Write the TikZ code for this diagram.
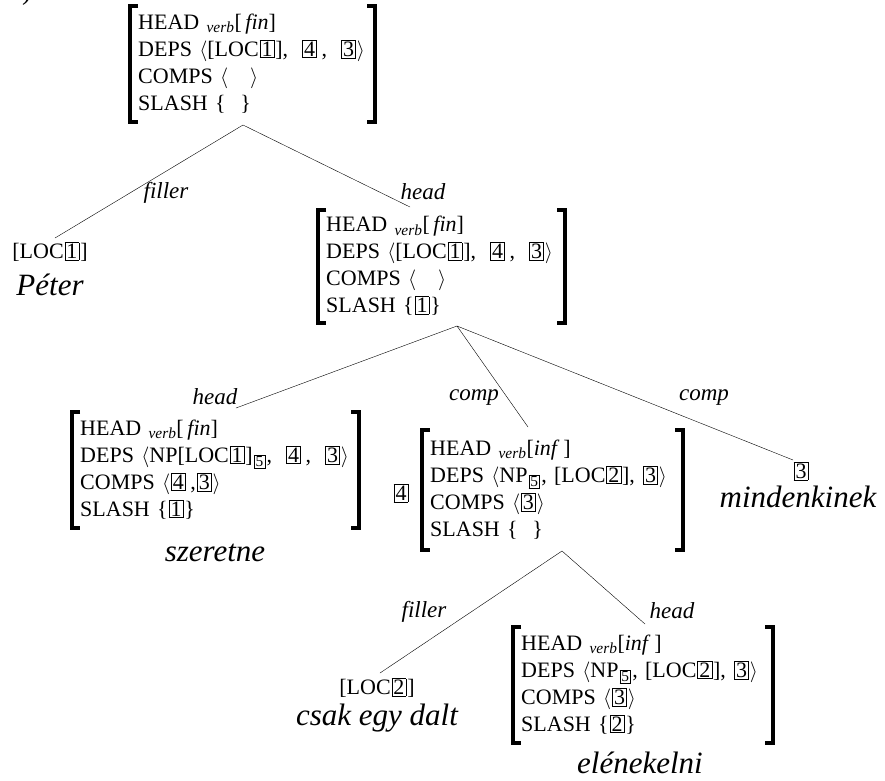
\documentclass[tikz,border=0pt]{standalone}
\usepackage{fontspec}
\setmainfont{Liberation Serif}
\usetikzlibrary{calc}
\newcommand{\bx}[1]{\kern1pt{\setlength{\fboxsep}{1.3pt}\setlength{\fboxrule}{0.5pt}\fbox{#1}}\kern1pt}
\newcommand{\vb}{\textsubscript{\textit{verb}}}
\newcommand{\gap}{\hspace{0.6em}}
\tikzset{
  avm/.style={anchor=north west, align=left, inner xsep=8pt, inner ysep=0pt,
    minimum height=116pt, font=\fontsize{22}{27}\selectfont},
  word/.style={font=\fontsize{31}{33}\selectfont\itshape, inner sep=0pt},
  lbl/.style={font=\fontsize{23}{25}\selectfont\itshape, inner sep=0pt},
  plain/.style={font=\fontsize{22}{26}\selectfont, inner sep=0pt},
  brk/.style={line width=4pt, line join=miter},
}
\begin{document}
\begin{tikzpicture}[x=1pt,y=-1pt]
\useasboundingbox (0,0) rectangle (885,780);
\node[plain, font=\fontsize{28}{30}\selectfont, anchor=base west](mark) at (22,-1) {)};
% feature structures
\node[avm, text width=229pt](top) at (130,6) {\begin{tabular}{@{}l@{}}
  HEAD \vb[\,\textit{fin}]\\
  DEPS $\langle$[LOC\bx{1}],\gap\bx{4}\,,\gap\bx{3}$\rangle$\\
  COMPS $\langle\quad\rangle$\\
  SLASH \{\ \ \}\end{tabular}};
\node[avm, text width=231pt, minimum height=113pt](mid) at (318,210) {\begin{tabular}{@{}l@{}}
  HEAD \vb[\,\textit{fin}]\\
  DEPS $\langle$[LOC\bx{1}],\gap\bx{4}\,,\gap\bx{3}$\rangle$\\
  COMPS $\langle\quad\rangle$\\
  SLASH \{\bx{1}\}\end{tabular}};
\node[avm, text width=271pt](hd) at (72,412) {\begin{tabular}{@{}l@{}}
  HEAD \vb[\,\textit{fin}]\\
  DEPS $\langle$NP[LOC\bx{1}]\textsubscript{\bx{5}},\gap\bx{4}\,,\gap\bx{3}$\rangle$\\
  COMPS $\langle$\bx{4}\,,\bx{3}$\rangle$\\
  SLASH \{\bx{1}\}\end{tabular}};
\node[avm, text width=245pt, minimum height=120pt](cmp) at (422,430) {\begin{tabular}{@{}l@{}}
  HEAD \vb[\textit{inf}\,]\\
  DEPS $\langle$NP\textsubscript{\bx{5}}, [LOC\bx{2}],\ \bx{3}$\rangle$\\
  COMPS $\langle$\bx{3}$\rangle$\\
  SLASH \{\ \ \}\end{tabular}};
\node[avm, text width=244pt](low) at (513,627) {\begin{tabular}{@{}l@{}}
  HEAD \vb[\textit{inf}\,]\\
  DEPS $\langle$NP\textsubscript{\bx{5}}, [LOC\bx{2}],\ \bx{3}$\rangle$\\
  COMPS $\langle$\bx{3}$\rangle$\\
  SLASH \{\bx{2}\}\end{tabular}};
\foreach \n in {top,mid,hd,cmp,low} {
  \draw[brk] ($(\n.north west)+(8pt,0)$)--(\n.north west)--(\n.south west)--++(8pt,0);
  \draw[brk] ($(\n.north east)+(-8pt,0)$)--(\n.north east)--(\n.south east)--++(-8pt,0);
}
% leaves
\node[plain](loc1) at (50,252) {[LOC\bx{1}]};
\node[word](peter) at (50,285) {Péter};
\node[word](szer) at (215,553) {szeretne};
\node[plain](tag4) at (401,493) {\bx{4}};
\node[plain](tag3) at (801,471) {\bx{3}};
\node[word](mind) at (798,497) {mindenkinek};
\node[plain](loc2) at (377,688) {[LOC\bx{2}]};
\node[word](csak) at (377,718) {csak egy dalt};
\node[word](elen) at (640,763) {elénekelni};
% branches
\coordinate(r1)at(243,125);
\coordinate(r2)at(457,326);
\coordinate(r3)at(562,551);
\coordinate(e1)at(55,238);
\coordinate(e2)at(410,207);
\coordinate(e3)at(236,408);
\coordinate(e4)at(528,427);
\coordinate(e5)at(793,460);
\coordinate(e6)at(380,673);
\coordinate(e7)at(645,624);
\draw (r1)--(e1) (r1)--(e2);
\draw (r2)--(e3) (r2)--(e4) (r2)--(e5);
\draw (r3)--(e6) (r3)--(e7);
\node[lbl](l1) at (166,193) {filler};
\node[lbl](l2) at (423,192) {head};
\node[lbl](l3) at (215,397) {head};
\node[lbl](l4) at (474,398) {comp};
\node[lbl](l5) at (704,398) {comp};
\node[lbl](l6) at (424,612) {filler};
\node[lbl](l7) at (672,611) {head};
\end{tikzpicture}
\end{document}
